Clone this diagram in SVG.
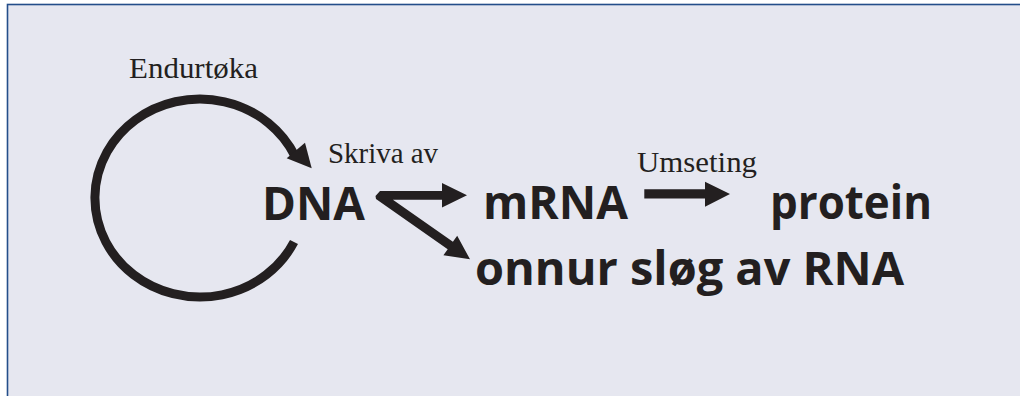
<svg xmlns="http://www.w3.org/2000/svg" width="1020" height="396" viewBox="0 0 1020 396">
  <style>
    .lbl { font-family: "Liberation Serif", "Times New Roman", serif; font-size: 29px; fill: #231f20; }
    .big { font-family: "Open Sans", "Noto Sans", "Liberation Sans", sans-serif; font-weight: 700; font-size: 47px; fill: #231f20; }
    .ink { fill: #231f20; }
    .ring { fill: none; stroke: #231f20; stroke-width: 9; }
  </style>
  <rect x="0" y="0" width="1020" height="396" fill="#ffffff"/>
  <rect x="7.5" y="4.5" width="1030" height="420" fill="#e6e7f0" stroke="#244e8a" stroke-width="1.6"/>

  <g id="connectors">
    <!-- replication loop -->
    <path class="ring" d="M 294 242 A 105 99 0 1 1 295.1 156.2"/>
    <polygon class="ink" points="286.7,158.3 305,142.7 311.7,168.3"/>
    <!-- transcription arrows -->
    <polygon class="ink" points="380,191 442,191 442,183 467,195.3 442,207.5 442,199.8 392.9,199.8 452.9,241.8 457.2,235.7 470,259.3 443.4,255.3 447.7,249.2 376,199 375.5,196"/>
    <!-- translation arrow -->
    <polygon class="ink" points="644.3,189.2 705,189.2 705,181.7 730,194 705,206.7 705,198.5 644.3,198.5"/>
  </g>

  <g id="label-endurtoka">
    <text class="lbl" x="129" y="78" textLength="129" lengthAdjust="spacingAndGlyphs">Endurtøka</text>
  </g>
  <g id="label-skriva">
    <text class="lbl" x="328" y="163" textLength="110" lengthAdjust="spacingAndGlyphs">Skriva av</text>
  </g>
  <g id="label-umseting">
    <text class="lbl" x="637" y="172" textLength="120" lengthAdjust="spacingAndGlyphs">Umseting</text>
  </g>

  <g id="node-dna">
    <text class="big" x="262" y="220" textLength="103" lengthAdjust="spacingAndGlyphs">DNA</text>
  </g>
  <g id="node-mrna">
    <text class="big" x="483" y="219" textLength="145" lengthAdjust="spacingAndGlyphs">mRNA</text>
  </g>
  <g id="node-protein">
    <text class="big" x="770" y="219" textLength="162" lengthAdjust="spacingAndGlyphs">protein</text>
  </g>
  <g id="node-other-rna">
    <text class="big" x="475" y="285" textLength="429" lengthAdjust="spacingAndGlyphs">onnur sløg av RNA</text>
  </g>
</svg>
